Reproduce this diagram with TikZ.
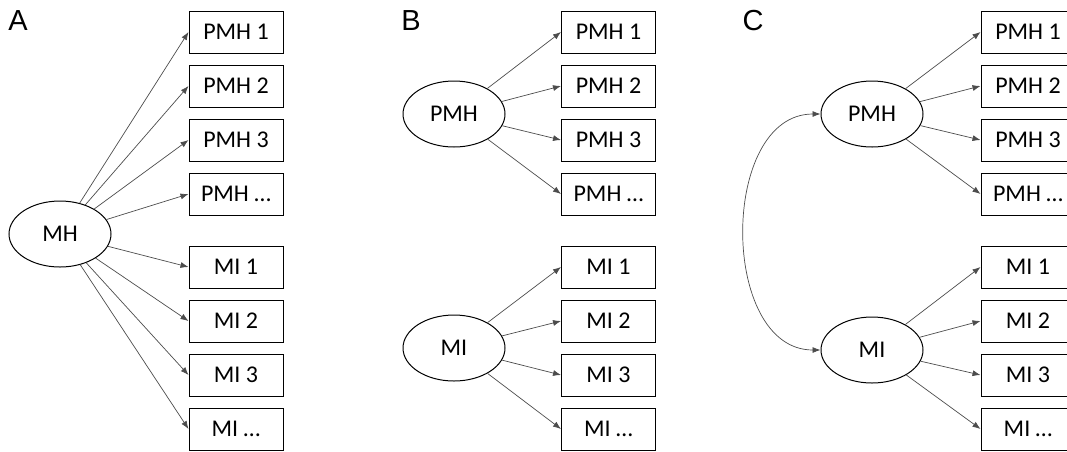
\documentclass[tikz,border=0pt]{standalone}
\usepackage{fontspec}
\setmainfont{Carlito}
\newfontfamily\panelfont{Liberation Sans}
\usetikzlibrary{arrows.meta,shapes.geometric}
\tikzset{
  ind/.style={draw, line width=1pt, minimum width=94pt, minimum height=42pt, inner sep=0pt, font=\fontsize{24}{28}\selectfont},
  lat/.style={draw, line width=1pt, ellipse, minimum width=102pt, minimum height=66pt, inner sep=0pt, font=\fontsize{24}{28}\selectfont},
  load/.style={draw=black!70, line width=0.7pt, -{Latex[length=8pt,width=6pt]}},
  panel/.style={font=\panelfont\fontsize{29}{32}\selectfont}
}
\begin{document}
\begin{tikzpicture}[x=1pt,y=-1pt]
\useasboundingbox (0,0) rectangle (1067,451);
% panel letters
\node [panel] at (18,21) {A};
\node [panel] at (411,21) {B};
\node [panel] at (753,21) {C};
% A: one general factor
\node [lat] (a-mh) at (60,234) {MH};
\foreach \i/\t in {1/1,2/2,3/3,4/…} {
  \node [ind] (a-p\i) at (236,{-22+54*\i}) {PMH \t};
  \node [ind] (a-m\i) at (236,{213+54*\i}) {MI \t};
  \draw [load] (a-mh) -- (a-p\i.west);
  \draw [load] (a-mh) -- (a-m\i.west);
}
% B: two separate factors
\node [lat] (b-pmh) at (454,114) {PMH};
\node [lat] (b-mi) at (454,348) {MI};
\foreach \i/\t in {1/1,2/2,3/3,4/…} {
  \node [ind] (b-p\i) at (608.5,{-22+54*\i}) {PMH \t};
  \node [ind] (b-m\i) at (608.5,{213+54*\i}) {MI \t};
  \draw [load] (b-pmh) -- (b-p\i.west);
  \draw [load] (b-mi) -- (b-m\i.west);
}
% C: two correlated factors
\node [lat] (c-pmh) at (872,114) {PMH};
\node [lat] (c-mi) at (872,350) {MI};
\foreach \i/\t in {1/1,2/2,3/3,4/…} {
  \node [ind] (c-p\i) at (1028,{-22+54*\i}) {PMH \t};
  \node [ind] (c-m\i) at (1028,{213+54*\i}) {MI \t};
  \draw [load] (c-pmh) -- (c-p\i.west);
  \draw [load] (c-mi) -- (c-m\i.west);
}
\draw [load, {Latex[length=8pt,width=6pt]}-{Latex[length=8pt,width=6pt]}] (c-pmh.west) to [out=180,in=180,looseness=1.1] (c-mi.west);
\end{tikzpicture}
\end{document}
